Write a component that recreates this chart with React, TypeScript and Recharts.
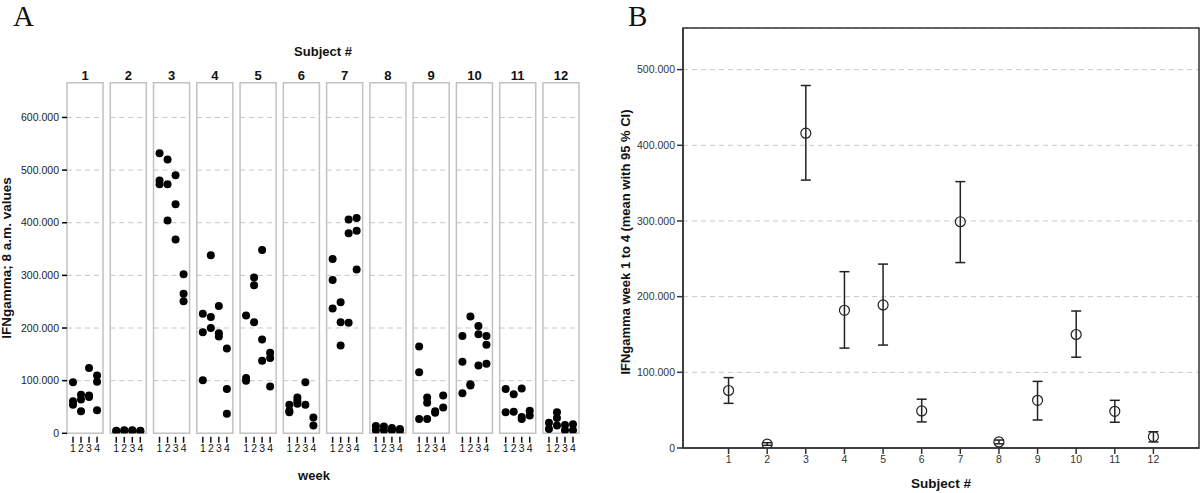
import React from 'react';
import {
  ScatterChart,
  Scatter,
  XAxis,
  YAxis,
  ReferenceArea,
  ReferenceLine,
  CartesianGrid,
  ErrorBar,
} from 'recharts';

// ---------- Panel A data (values in thousands, per week 1..4) ----------
const subjectLabels = ['1', '2', '3', '4', '5', '6', '7', '8', '9', '10', '11', '12'];
const weekLabels = ['1', '2', '3', '4'];
const yTicksA = [0, 100000, 200000, 300000, 400000, 500000, 600000];
const gridValuesA = [100000, 200000, 300000, 400000, 500000, 600000];

const subject1 = [[97, 61, 54], [73, 64, 42], [124, 72, 69], [110, 98, 44]];
const subject2 = [[5, 4], [6, 5], [6, 5], [5, 4]];
const subject3 = [[532, 480, 473], [520, 473, 404], [490, 435, 368], [302, 265, 251]];
const subject4 = [[227, 192, 101], [338, 221, 200], [242, 190, 184], [161, 84, 37]];
const subject5 = [[224, 105, 100], [296, 281, 211], [348, 178, 138], [153, 143, 89]];
const subject6 = [[54, 43, 40], [68, 62, 56], [97, 54], [30, 15]];
const subject7 = [[331, 291, 237], [249, 211, 167], [406, 380, 210], [409, 385, 311]];
const subject8 = [[14, 6], [13, 6], [10, 6], [8, 5]];
const subject9 = [[165, 116, 27], [68, 58, 27], [42, 39], [72, 49]];
const subject10 = [[185, 136, 76], [222, 93, 91], [204, 188, 129], [185, 168, 132]];
const subject11 = [[84, 40], [74, 41], [85, 31, 27], [43, 34]];
const subject12 = [[20, 8], [40, 29, 15], [16, 6], [17, 6]];

// ---------- Panel B data (thousands) ----------
const subjectNumbers = [1, 2, 3, 4, 5, 6, 7, 8, 9, 10, 11, 12];
const meanB = [76, 5, 416, 182, 189, 49, 299, 8, 63, 150, 48.5, 15];
const lowerB = [59, 3.5, 354, 132, 136, 34.5, 245, 5.5, 37, 120, 34, 8];
const upperB = [93, 7, 479, 233, 243, 64.5, 352, 10.5, 88, 181, 63, 21.5];
const yTicksB = [0, 100000, 200000, 300000, 400000, 500000];

// ---------- derived ----------
const PITCH = 5.4;
const subjects = [subject1, subject2, subject3, subject4, subject5, subject6, subject7, subject8, subject9, subject10, subject11, subject12];
const X_MIN_A = 0.25;
const X_MAX_A = (subjects.length - 1) * PITCH + 4.75;
const Y_MAX_A = 666000;
const Y_MAX_B = 555000;

const pointsA = subjects.flatMap((weeks, i) =>
  weeks.flatMap((vals, j) => vals.map((v) => ({ x: i * PITCH + j + 1, y: v * 1000 })))
);
const weekTickPositions = subjects.flatMap((_, i) => weekLabels.map((_, j) => i * PITCH + j + 1));

const pointsB = subjectNumbers.map((s, i) => ({
  x: s,
  y: meanB[i] * 1000,
  err: [(meanB[i] - lowerB[i]) * 1000, (upperB[i] - meanB[i]) * 1000],
}));

const fmt = (v: number) => (v === 0 ? '0' : `${Math.round(v / 1000)}.000`);

const WeekTick = (props: any) => {
  const { x, y, index } = props;
  return (
    <g>
      <line x1={x} x2={x} y1={y + 3.5} y2={y + 9.5} stroke="#111" strokeWidth={1.5} />
      <text x={x} y={y + 18.5} textAnchor="middle" fontSize={10.5} fill="#111">
        {weekLabels[index % 4]}
      </text>
    </g>
  );
};

const Dot = (props: any) => <circle cx={props.cx} cy={props.cy} r={4} fill="#000" />;
const OpenDot = (props: any) => (
  <circle cx={props.cx} cy={props.cy} r={5} fill="none" stroke="#222" strokeWidth={1.2} />
);

export default function App() {
  return (
    <div
      style={{
        position: 'absolute',
        left: 0,
        top: 0,
        width: 1200,
        height: 493,
        background: '#fff',
        fontFamily: '"Liberation Sans", Arial, sans-serif',
      }}
    >
      <div style={{ position: 'absolute', left: 0, top: 0 }}>
        <ScatterChart width={600} height={493} margin={{ top: 82.7, right: 21, bottom: 29.7, left: 7 }}>
          <XAxis
            dataKey="x"
            type="number"
            domain={[X_MIN_A, X_MAX_A]}
            ticks={weekTickPositions}
            interval={0}
            axisLine={false}
            tickLine={false}
            tickSize={0}
            tickMargin={0}
            height={30}
            tick={<WeekTick />}
            allowDataOverflow
          />
          <YAxis
            dataKey="y"
            type="number"
            domain={[0, Y_MAX_A]}
            ticks={yTicksA}
            interval={0}
            width={60}
            axisLine={false}
            tickLine={{ stroke: '#000', strokeWidth: 1.5 }}
            tickSize={5}
            tickMargin={3}
            tickFormatter={fmt}
            tick={{ fontSize: 10.5, fill: '#222' }}
            allowDataOverflow
          />
          {subjects.map((_, i) =>
            gridValuesA.map((g) => (
              <ReferenceLine
                key={`g${i}-${g}`}
                segment={[
                  { x: i * PITCH + 0.25, y: g },
                  { x: i * PITCH + 4.75, y: g },
                ]}
                stroke="#c6c6c6"
                strokeDasharray="5 4"
                strokeWidth={1}
              />
            ))
          )}
          {subjects.map((_, i) => (
            <ReferenceArea
              key={`f${i}`}
              x1={i * PITCH + 0.25}
              x2={i * PITCH + 4.75}
              y1={0}
              y2={Y_MAX_A}
              fill="none"
              fillOpacity={0}
              stroke="#c2c2c2"
              strokeWidth={1.5}
              label={{
                value: subjectLabels[i],
                position: 'top',
                offset: 3,
                fontSize: 13,
                fontWeight: 'bold',
                fill: '#111',
              }}
            />
          ))}
          <Scatter data={pointsA} shape={<Dot />} isAnimationActive={false} />
        </ScatterChart>
      </div>

      <div style={{ position: 'absolute', left: 600, top: 0 }}>
        <ScatterChart width={600} height={493} margin={{ top: 28, right: 1, bottom: 15, left: 13 }}>
          <CartesianGrid horizontal vertical={false} stroke="#c8c8c8" strokeDasharray="5 4" />
          <XAxis
            dataKey="x"
            type="number"
            domain={[-0.18, 13.18]}
            ticks={subjectNumbers}
            interval={0}
            height={30}
            axisLine={{ stroke: '#333', strokeWidth: 1.5 }}
            tickLine={{ stroke: '#333', strokeWidth: 1.5 }}
            tickSize={6}
            tickMargin={2}
            tick={{ fontSize: 10.5, fill: '#333' }}
            allowDataOverflow
          />
          <YAxis
            dataKey="y"
            type="number"
            domain={[0, Y_MAX_B]}
            ticks={yTicksB}
            interval={0}
            width={70}
            axisLine={{ stroke: '#333', strokeWidth: 1.5 }}
            tickLine={{ stroke: '#333', strokeWidth: 1.5 }}
            tickSize={6}
            tickMargin={2}
            tickFormatter={fmt}
            tick={{ fontSize: 10.5, fill: '#333' }}
            allowDataOverflow
          />
          <ReferenceArea
            x1={-0.18}
            x2={13.18}
            y1={0}
            y2={Y_MAX_B}
            fill="none"
            fillOpacity={0}
            stroke="#333"
            strokeWidth={1.5}
          />
          <Scatter data={pointsB} shape={<OpenDot />} isAnimationActive={false}>
            <ErrorBar dataKey="err" direction="y" width={5} stroke="#222" strokeWidth={1.5} isAnimationActive={false} />
          </Scatter>
        </ScatterChart>
      </div>

      <svg
        width={1200}
        height={493}
        style={{ position: 'absolute', left: 0, top: 0, pointerEvents: 'none' }}
      >
        <text x={13} y={26} fontFamily='"Liberation Serif", "Times New Roman", serif' fontSize={29} fill="#111">A</text>
        <text x={628} y={26} fontFamily='"Liberation Serif", "Times New Roman", serif' fontSize={29} fill="#111">B</text>
        <text x={323} y={55.5} textAnchor="middle" fontSize={13} fontWeight="bold" fill="#111">Subject #</text>
        <text x={314} y={480} textAnchor="middle" fontSize={13} fontWeight="bold" fill="#111">week</text>
        <text
          x={11}
          y={258}
          textAnchor="middle"
          fontSize={13.5}
          fontWeight="bold"
          fill="#111"
          transform="rotate(-90, 11, 258)"
        >
          IFNgamma; 8 a.m. values
        </text>
        <text x={941} y={488} textAnchor="middle" fontSize={13.5} fontWeight="bold" fill="#111">Subject #</text>
        <text
          x={630}
          y={242}
          textAnchor="middle"
          fontSize={13}
          fontWeight="bold"
          fill="#111"
          transform="rotate(-90, 630, 242)"
        >
          IFNgamma week 1 to 4 (mean with 95 % CI)
        </text>
      </svg>
    </div>
  );
}
